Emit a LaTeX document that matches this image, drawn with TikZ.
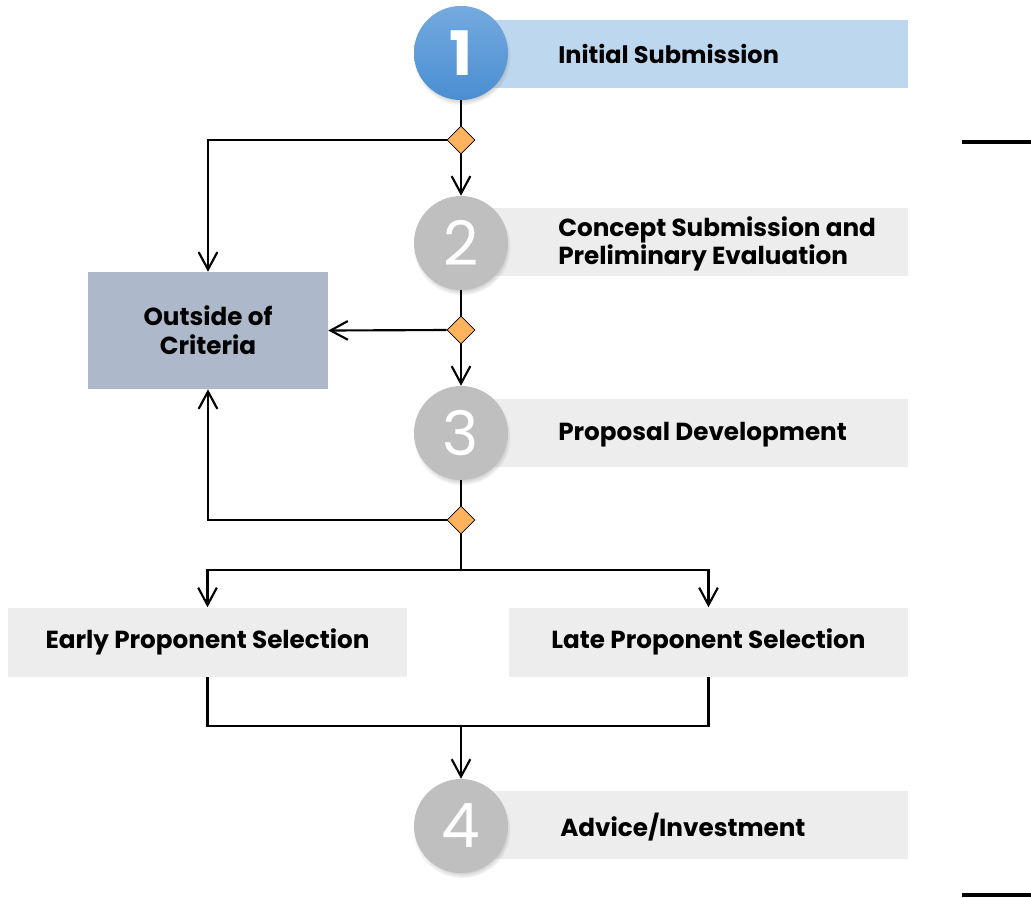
\documentclass[tikz,border=0pt]{standalone}
\usepackage{fontspec}
\setmainfont{Poppins}
\usetikzlibrary{positioning,shapes.geometric,arrows.meta,shadows}

\definecolor{bannerblue}{HTML}{BDD7EE}
\definecolor{bannergray}{HTML}{EDEDED}
\definecolor{numgray}{HTML}{BFBFBF}
\definecolor{numbluetop}{HTML}{74AADF}
\definecolor{numbluebot}{HTML}{4A8ED2}
\definecolor{gateorange}{HTML}{FFB35C}
\definecolor{outfill}{HTML}{ADB9CA}

\tikzset{
  stepnum/.style={circle, minimum size=70.5pt, inner sep=0pt, fill=numgray, text=white,
    font=\fontsize{46}{46}\selectfont,
    circular drop shadow={shadow xshift=0.6pt, shadow yshift=-2.5pt, shadow scale=1.04, opacity=0.45}},
  banner/.style={minimum width=335.25pt, minimum height=51pt, inner sep=0pt, fill=bannergray},
  bannertext/.style={anchor=west, align=left, inner sep=0pt, font=\bfseries\fontsize{18.5}{21.5}\selectfont},
  gate/.style={diamond, draw=black, line width=0.6pt, fill=gateorange, minimum width=21pt, minimum height=21pt, inner sep=0pt},
  selbox/.style={minimum width=299.25pt, minimum height=51.75pt, inner sep=0pt, fill=bannergray,
    font=\bfseries\fontsize{18.5}{21.5}\selectfont},
  flow/.style={line width=1.6pt, -{Straight Barb[length=13pt,width=14pt]}},
  link/.style={line width=1.6pt}
}

\begin{document}
\begin{tikzpicture}[x=0.75pt, y=-0.75pt]
\useasboundingbox (0,0) rectangle (1031,897);

\node[banner, fill=bannerblue] (b1) at (684.5,54) {};
\node[banner] (b2) at (684.5,241.5) {};
\node[banner] (b3) at (684.5,433) {};
\node[banner] (b4) at (684.5,825) {};

\node[bannertext, font=\bfseries\fontsize{18}{21.5}\selectfont] (t1) at (558,53.5) {Initial Submission};
\node[bannertext] (t2) at (558,244) {Concept Submission and\\Preliminary Evaluation};
\node[bannertext] (t3) at (558,435) {Proposal Development};
\node[bannertext] (t4) at (560,827) {Advice/Investment};

\node[stepnum, top color=numbluetop, bottom color=numbluebot] (c1) at (461,53) {\bfseries 1};
\node[stepnum] (c2) at (461,243) {2};
\node[stepnum] (c3) at (461,433) {3};
\node[stepnum] (c4) at (461,826) {4};

\node[gate] (d1) at (461,140) {};
\node[gate] (d2) at (461,330) {};
\node[gate] (d3) at (461,520) {};

\node[minimum width=180pt, minimum height=87.75pt, inner sep=0pt, fill=outfill, align=center,
  font=\bfseries\fontsize{18.5}{21.5}\selectfont] (out) at (208,330.5) {Outside of\\Criteria};

\node[selbox] (early) at (207.5,642) {Early Proponent Selection};
\node[selbox] (late) at (708.5,642) {Late Proponent Selection};

\coordinate (split) at (461,570);
\coordinate (merge) at (461,726);

\draw[link] (c1.south) -- (d1.north);
\draw[flow] (d1.south) -- (c2.north);
\draw[flow] (d1.west) -| (out.north);
\draw[link] (c2.south) -- (d2.north);
\draw[flow] (d2.west) -- (out.east);
\draw[flow] (d2.south) -- (c3.north);
\draw[link] (c3.south) -- (d3.north);
\draw[flow] (d3.west) -| (out.south);
\draw[link] (d3.south) -- (split);
\draw[flow] (split) -| (early.north);
\draw[flow] (split) -| (late.north);
\draw[link] (early.south) |- (merge);
\draw[link] (late.south) |- (merge);
\draw[flow] (merge) -- (c4.north);

\draw[line width=3.5pt] (962,142) -- (1031,142);
\draw[line width=2.5pt] (962,895) -- (1031,895);
\end{tikzpicture}
\end{document}
